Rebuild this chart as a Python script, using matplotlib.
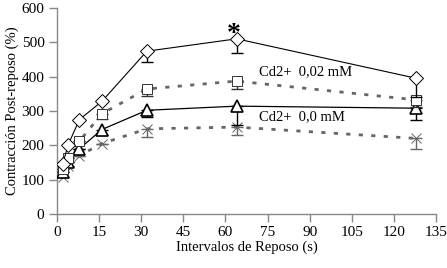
import numpy as np
import matplotlib
matplotlib.use("Agg")
import matplotlib.pyplot as plt

plt.rcParams['font.family'] = ['Liberation Serif', 'DejaVu Serif']

# rest intervals (s)
intervals = [2, 4, 8, 16, 32, 64, 128]

# post-rest contraction (%) for each series
diamond_vals = [145, 202, 275, 328, 474, 510, 395]
diamond_err = [0, 0, 0, 0, 32, 42, 55]
square_vals = [132, 162, 212, 292, 364, 387, 332]
square_err = [0, 0, 0, 14, 20, 22, 20]
triangle_vals = [122, 152, 190, 246, 302, 314, 308]
triangle_err = [0, 0, 0, 15, 20, 55, 35]
cross_vals = [108, 140, 170, 205, 248, 253, 220]
cross_err = [0, 0, 0, 0, 25, 24, 32]

xtick_vals = list(range(0, 136, 15))
ytick_vals = list(range(0, 601, 100))

fig = plt.figure(figsize=(4.47, 2.68), dpi=100)
ax = fig.add_axes([0.1275, 0.2015, 0.848, 0.769])

gray = '#666666'

def series(vals, err, marker, ms, ls, lw, color, mec, mew, z):
    low = np.array(err)
    ax.errorbar(intervals, vals, yerr=[low, np.zeros_like(low)], fmt='none',
                ecolor=mec, elinewidth=1.0, capsize=4, capthick=1.0, zorder=z)
    ax.plot(intervals, vals, linestyle=ls, color=color, lw=lw, zorder=z)
    ax.plot(intervals, vals, linestyle='none', marker=marker, ms=ms,
            mfc='white', mec=mec, mew=mew, zorder=z + 0.5)

series(diamond_vals, diamond_err, 'D', 7.5, '-', 0.8, 'black', 'black', 0.7, 5)
series(square_vals, square_err, 's', 6.5, (0, (1.5, 3)), 2.0, gray, '#333333', 0.7, 4)
series(triangle_vals, triangle_err, '^', 8, '-', 0.9, 'black', 'black', 1.2, 3)
series(cross_vals, cross_err, 'x', 7.5, (0, (1.5, 3)), 2.0, gray, gray, 0.7, 2)

# significance mark
ax.text(63, 522, '*', fontsize=20, ha='center', va='center', fontweight='bold')
ax.text(72, 414, 'Cd2+  0,02 mM', fontsize=10.5, va='center')
ax.text(72, 283, 'Cd2+  0,0 mM', fontsize=10.5, va='center')

ax.set_xlim(0, 135)
ax.set_ylim(0, 600)
ax.set_xticks(xtick_vals)
ax.set_yticks(ytick_vals)
ax.set_xlabel('Intervalos de Reposo (s)', fontsize=10.5, labelpad=1)
ax.set_ylabel('Contracción Post-reposo (%)', fontsize=10.5, labelpad=2)

for s in ['top', 'right']:
    ax.spines[s].set_visible(False)
for s in ['left', 'bottom']:
    ax.spines[s].set_color('#888888')
    ax.spines[s].set_linewidth(1.0)
ax.tick_params(direction='out', length=6, width=1.0, color='#888888',
               labelsize=11, pad=3)

fig.savefig('out.png', dpi=100)
